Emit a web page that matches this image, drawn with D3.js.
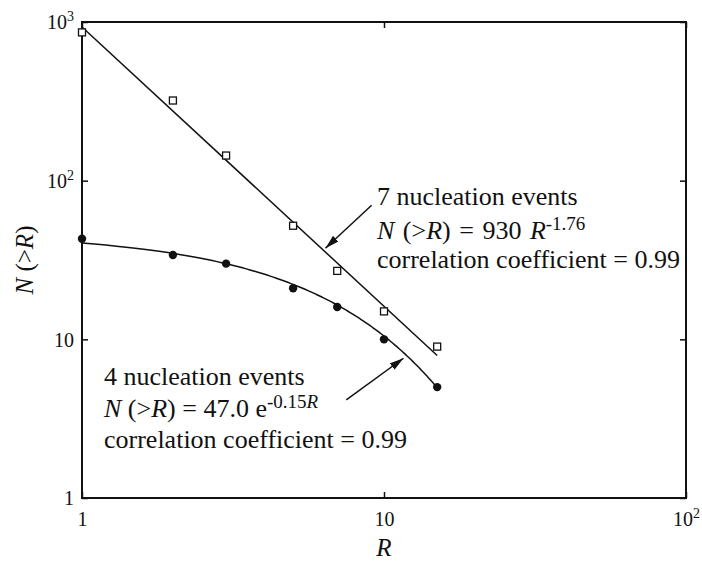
<!DOCTYPE html>
<html>
<head>
<meta charset="utf-8">
<script src="https://cdn.jsdelivr.net/npm/d3@7"></script>
<style>
  body { margin: 0; background: #fff; }
  svg { display: block; }
  text { font-family: "Liberation Serif", "Times New Roman", Times, serif; fill: #111; }
</style>
</head>
<body>
<svg id="chart" width="702" height="561"></svg>
<script>
// Cumulative number of crystals larger than R
const radius = [1, 2, 3, 5, 7, 10, 15];
const sevenEvents = [860, 320, 144, 52, 27, 15, 9];   // open squares
const fourEvents = [43, 34, 30, 21, 16, 10, 5];       // filled circles

// Fitted relations
const powerFit = { a: 930, b: -1.76 };   // N = a R^b
const expFit = { a: 47.0, k: -0.15 };    // N = a e^(kR)
const fitRange = [1, 15];

// Axis ticks
const xTicks = [1, 10, 100];
const xTickLabels = ["1", "10", "10^2"];
const yTicks = [1, 10, 100, 1000];
const yTickLabels = ["1", "10", "10^2", "10^3"];

// Arrow annotations, in data coordinates [R, N]
const arrowPower = { from: [9.1, 70], to: [6.4, 37.5] };
const arrowExp = { from: [7.5, 4.15], to: [11.6, 7.6] };

const svg = d3.select("#chart");
const margin = { left: 82, right: 16, top: 22, bottom: 63 };
const W = 702, H = 561;
const x = d3.scaleLog().domain([1, 100]).range([margin.left, W - margin.right]);
const y = d3.scaleLog().domain([1, 1000]).range([H - margin.bottom, margin.top]);

const ink = "#111";
const serif = '"Liberation Serif", "Times New Roman", Times, serif';

// write "10^2" style labels as base + superscript
function powerLabel(sel, label, supSize, supDy) {
  const parts = label.split("^");
  sel.text(null);
  sel.append("tspan").text(parts[0]);
  if (parts[1]) sel.append("tspan").attr("dy", supDy).style("font-size", supSize).text(parts[1]);
}

// Axes with inward ticks on all four sides
const tickLen = 6;
const gx = svg.append("g").attr("transform", `translate(0,${y.range()[0]})`)
  .call(d3.axisBottom(x).tickValues(xTicks).tickSizeInner(-tickLen).tickSizeOuter(0).tickPadding(14)
    .tickFormat((d, i) => xTickLabels[i]));
const gxTop = svg.append("g").attr("transform", `translate(0,${y.range()[1]})`)
  .call(d3.axisTop(x).tickValues(xTicks).tickSizeInner(-tickLen).tickSizeOuter(0).tickFormat(""));
const gy = svg.append("g").attr("transform", `translate(${x.range()[0]},0)`)
  .call(d3.axisLeft(y).tickValues(yTicks).tickSizeInner(-tickLen).tickSizeOuter(0).tickPadding(8)
    .tickFormat((d, i) => yTickLabels[i]));
const gyRight = svg.append("g").attr("transform", `translate(${x.range()[1]},0)`)
  .call(d3.axisRight(y).tickValues(yTicks).tickSizeInner(-tickLen).tickSizeOuter(0).tickFormat(""));

[gx, gxTop, gy, gyRight].forEach(g => {
  g.attr("font-family", serif);
  g.select(".domain").remove();
  g.selectAll(".tick line").attr("stroke", ink).attr("stroke-width", 1.5);
});
gx.selectAll(".tick text").style("font-size", "20px").attr("fill", ink).attr("dy", "0.71em")
  .each(function (d, i) { powerLabel(d3.select(this), xTickLabels[i], "14px", -8); });
gy.selectAll(".tick text").style("font-size", "20px").attr("fill", ink).attr("dy", "0.34em")
  .each(function (d, i) { powerLabel(d3.select(this), yTickLabels[i], "14px", -8); });

// Frame
svg.append("rect")
  .attr("x", x.range()[0]).attr("y", y.range()[1])
  .attr("width", x.range()[1] - x.range()[0]).attr("height", y.range()[0] - y.range()[1])
  .attr("fill", "none").attr("stroke", ink).attr("stroke-width", 2);

// Axis titles
svg.append("text").attr("x", (x.range()[0] + x.range()[1]) / 2).attr("y", 556)
  .attr("text-anchor", "middle").style("font-size", "25px").style("font-style", "italic").text("R");
const yt = svg.append("text")
  .attr("transform", `translate(33,${(y.range()[0] + y.range()[1]) / 2}) rotate(-90)`)
  .attr("text-anchor", "middle").style("font-size", "25px");
yt.append("tspan").style("font-style", "italic").text("N");
yt.append("tspan").text(" (>");
yt.append("tspan").style("font-style", "italic").text("R");
yt.append("tspan").text(")");

// Fit curves
const line = d3.line().x(d => x(d[0])).y(d => y(d[1]));
const powerPts = fitRange.map(r => [r, powerFit.a * Math.pow(r, powerFit.b)]);
const expPts = d3.range(fitRange[0], fitRange[1] + 1e-9, 0.1).map(r => [r, expFit.a * Math.exp(expFit.k * r)]);
svg.append("path").datum(powerPts).attr("d", line).attr("fill", "none").attr("stroke", ink).attr("stroke-width", 1.5);
svg.append("path").datum(expPts).attr("d", line).attr("fill", "none").attr("stroke", ink).attr("stroke-width", 1.5);

// Data points
const sq = 7;
svg.append("g").selectAll("rect").data(radius).join("rect")
  .attr("x", (d) => x(d) - sq / 2).attr("y", (d, i) => y(sevenEvents[i]) - sq / 2)
  .attr("width", sq).attr("height", sq)
  .attr("fill", "#fff").attr("stroke", ink).attr("stroke-width", 1.3);
svg.append("g").selectAll("circle").data(radius).join("circle")
  .attr("cx", d => x(d)).attr("cy", (d, i) => y(fourEvents[i])).attr("r", 4.2)
  .attr("fill", ink);

// Arrows
svg.append("defs").append("marker")
  .attr("id", "head").attr("viewBox", "0 0 14 8").attr("refX", 14).attr("refY", 4)
  .attr("markerWidth", 14).attr("markerHeight", 8).attr("markerUnits", "userSpaceOnUse")
  .attr("orient", "auto")
  .append("path").attr("d", "M0,0 L14,4 L0,8 Z").attr("fill", ink);
[arrowPower, arrowExp].forEach(a => {
  svg.append("line")
    .attr("x1", x(a.from[0])).attr("y1", y(a.from[1]))
    .attr("x2", x(a.to[0])).attr("y2", y(a.to[1]))
    .attr("stroke", ink).attr("stroke-width", 1.5).attr("marker-end", "url(#head)");
});

// Annotation text blocks
function block(x0, baselines, kind) {
  const fs = "26px", sup = "19px";
  const l1 = svg.append("text").attr("x", x0).attr("y", baselines[0]).style("font-size", fs);
  const l2 = svg.append("text").attr("x", x0).attr("y", baselines[1]).style("font-size", fs);
  const l3 = svg.append("text").attr("x", x0).attr("y", baselines[2]).style("font-size", fs);
  l2.append("tspan").style("font-style", "italic").text("N");
  l2.append("tspan").text(" (>");
  l2.append("tspan").style("font-style", "italic").text("R");
  if (kind === "power") {
    l1.text("7 nucleation events");
    l2.style("word-spacing", "2px");
    l2.append("tspan").text(`) = ${powerFit.a} `);
    l2.append("tspan").style("font-style", "italic").text("R");
    l2.append("tspan").attr("dy", -9).style("font-size", sup).text(String(powerFit.b));
  } else {
    l1.text("4 nucleation events");
    l2.append("tspan").text(`) = ${expFit.a.toFixed(1)} e`);
    l2.append("tspan").attr("dy", -9).style("font-size", sup).text(String(expFit.k));
    l2.append("tspan").style("font-size", sup).style("font-style", "italic").text("R");
  }
  l3.text("correlation coefficient = 0.99");
}
block(377, [205, 239, 268], "power");
block(104, [385, 417, 448], "exp");
</script>
</body>
</html>
